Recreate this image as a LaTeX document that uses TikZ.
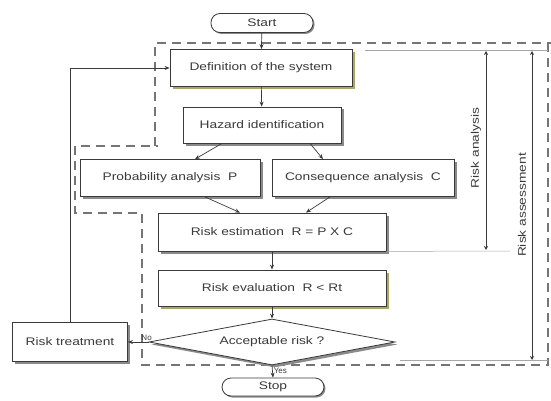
\documentclass[tikz,border=0pt]{standalone}
\usepackage{fontspec}
\usepackage{graphicx}
\setmainfont{Liberation Sans}
\usetikzlibrary{shapes.geometric,shadows,arrows.meta}
\definecolor{ink}{HTML}{3A3A3A}
\definecolor{shd}{HTML}{8A8A8A}
\definecolor{olv}{HTML}{A8A860}
\newcommand{\sx}[1]{\scalebox{1.25}[1]{#1}}
\begin{document}
\begin{tikzpicture}[x=1pt,y=-1pt,
  font=\fontsize{11}{13}\selectfont,
  every node/.style={text=ink},
  box/.style={draw=ink, fill=white, line width=0.8pt, inner sep=0pt,
     drop shadow={shadow xshift=2.5pt, shadow yshift=-2.5pt, fill=shd, opacity=1}},
  obox/.style={box, drop shadow={shadow xshift=2.5pt, shadow yshift=-2.5pt, fill=olv, opacity=1}},
  term/.style={draw=ink, fill=white, line width=0.8pt, rounded corners=9pt, inner sep=0pt,
     minimum width=102pt, minimum height=19pt,
     drop shadow={shadow xshift=1.5pt, shadow yshift=-1.5pt, fill=shd, opacity=1}},
  arr/.style={draw=ink, line width=0.7pt, -{Stealth[length=5pt,width=4pt]}},
  reg/.style={draw=ink!70, line width=1.6pt, dash pattern=on 9pt off 6pt},
  thin/.style={draw=gray!70, line width=0.5pt},
  dim/.style={draw=ink, line width=0.7pt, {Stealth[length=4pt,width=4pt]}-{Stealth[length=4pt,width=4pt]}},
  lab/.style={font=\fontsize{8}{10}\selectfont, inner sep=1pt},
  side/.style={inner sep=1pt},
]
\useasboundingbox (0,0) rectangle (551,401);

% dashed region
\draw[reg] (155,146) -- (155,43) -- (551,43);
\draw[reg] (548,43) -- (548,365) -- (142,365) -- (142,213) -- (75,213) -- (75,146) -- (158,146);

% nodes
\node[term] (start) at (262,23) {\sx{Start}};
\node[obox, minimum width=182pt, minimum height=37pt] (def) at (261,68) {\sx{Definition of the system}};
\node[box, minimum width=158pt, minimum height=36pt] (haz) at (262,125) {\sx{Hazard identification}};
\node[box, minimum width=180pt, minimum height=37pt] (prob) at (170,178) {\sx{Probability analysis\ \ P}};
\node[box, minimum width=182pt, minimum height=37pt] (cons) at (363,178) {\sx{Consequence analysis\ \ C}};
\node[box, minimum width=228pt, minimum height=38pt] (est) at (272,232) {\sx{Risk estimation\ \ R = P X C}};
\node[obox, minimum width=228pt, minimum height=36pt] (eval) at (272,288) {\sx{Risk evaluation\ \ R < Rt}};
\node[box, diamond, aspect=5.3, minimum width=246pt, minimum height=46pt] (dec) at (272,342) {\sx{Acceptable risk ?}};
\node[box, minimum width=115pt, minimum height=39pt] (treat) at (70,342) {\sx{Risk treatment}};
\node[term, minimum height=18pt] (stop) at (273,387) {\sx{Stop}};

% connectors
\draw[arr] (start) -- (def);
\draw[arr] (def) -- (haz);
\draw[arr] ([xshift=-40pt]haz.south) -- ([xshift=25pt]prob.north);
\draw[arr] ([xshift=48pt]haz.south) -- ([xshift=-40pt]cons.north);
\draw[arr] ([xshift=35pt]prob.south) -- ([xshift=-32pt]est.north);
\draw[arr] ([xshift=-33pt]cons.south) -- ([xshift=34pt]est.north);
\draw[arr] (est) -- (eval);
\draw[arr] (eval) -- (dec);
\draw[arr] (dec.west) -- node[lab, pos=0, above, xshift=-2pt] {No} (treat.east);
\draw[arr] (dec.south) -- node[lab, pos=0.45, right] {Yes} (stop.north);
\draw[arr] (treat.north) |- (def.west);

% dimension lines
\coordinate (ra1) at (486,51);
\coordinate (ra2) at (486,250);
\coordinate (rs1) at (532,51);
\coordinate (rs2) at (532,360);
\coordinate (ta) at (365,50);
\coordinate (tb) at (548,50);
\coordinate (ea) at (510,251);
\coordinate (sa) at (400,360);
\coordinate (sb) at (548,360);
\draw[thin] (ta) -- (tb);
\draw[thin] (est.south east) -- (ea);
\draw[thin] (sa) -- (sb);
\draw[dim] (ra1) -- (ra2);
\draw[dim] (rs1) -- (rs2);
\node[side, rotate=90] (lra) at (476,148) {\sx{Risk analysis}};
\node[side, rotate=90] (lrs) at (522,205) {\sx{Risk assessment}};
\end{tikzpicture}
\end{document}
